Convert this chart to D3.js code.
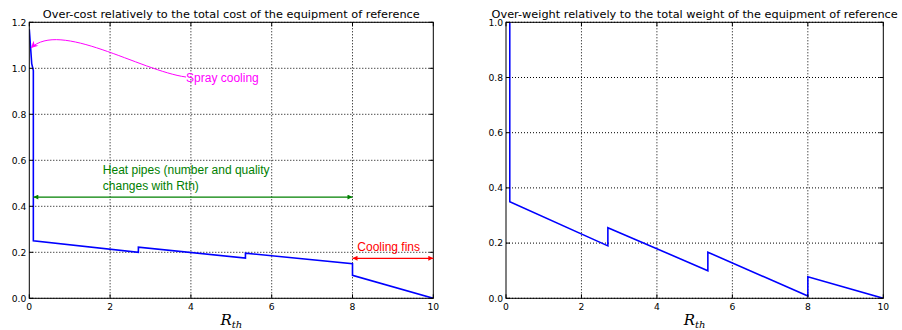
<!DOCTYPE html>
<html>
<head>
<meta charset="utf-8">
<script src="https://cdn.jsdelivr.net/npm/d3@7"></script>
<style>
  html, body { margin: 0; padding: 0; background: #fff; }
  svg { display: block; }
  .tick-label { font-family: "DejaVu Sans", sans-serif; font-size: 9.2px; fill: #000; }
  .title { font-family: "DejaVu Sans", sans-serif; font-size: 11.3px; fill: #000; }
  .note { font-family: "Liberation Sans", Arial, sans-serif; font-size: 12px; }
  .xlabel { font-family: "DejaVu Serif", serif; font-style: italic; fill: #000; }
</style>
</head>
<body>
<svg id="chart" width="902" height="330"></svg>
<script>
// Rth values and relative over-cost (left panel)
const costRth = [0, 0.06, 0.1, 0.1, 2.7, 2.7, 5.35, 5.35, 8, 8, 10];
const costValues = [1.17, 1.02, 0.99, 0.25, 0.2, 0.222, 0.175, 0.196, 0.15, 0.1, 0.0];

// Rth values and relative over-weight (right panel)
const weightRth = [0.1, 0.1, 2.7, 2.7, 5.35, 5.35, 8, 8, 10];
const weightValues = [1.0, 0.35, 0.19, 0.256, 0.1, 0.167, 0.008, 0.078, 0.0];

const xTicks = [0, 2, 4, 6, 8, 10];
const costTicks = [0, 0.2, 0.4, 0.6, 0.8, 1.0, 1.2];
const weightTicks = [0, 0.2, 0.4, 0.6, 0.8, 1.0];

const costTitle = "Over-cost relatively to the total cost of the equipment of reference";
const weightTitle = "Over-weight relatively to the total weight of the equipment of reference";

const svg = d3.select("#chart");

const defs = svg.append("defs");
function marker(id, color) {
  defs.append("marker")
    .attr("id", id)
    .attr("viewBox", "0 -5 10 10")
    .attr("refX", 10).attr("refY", 0)
    .attr("markerWidth", 6).attr("markerHeight", 5)
    .attr("markerUnits", "userSpaceOnUse")
    .attr("orient", "auto-start-reverse")
    .append("path").attr("d", "M0,-5L10,0L0,5Z").attr("fill", color);
}
marker("head-green", "#008000");
marker("head-red", "#ff0000");
defs.append("marker")
  .attr("id", "head-magenta")
  .attr("viewBox", "0 -5 10 10")
  .attr("refX", 10).attr("refY", 0)
  .attr("markerWidth", 9).attr("markerHeight", 7)
  .attr("markerUnits", "userSpaceOnUse")
  .attr("orient", "auto")
  .append("path").attr("d", "M0,-5L10,0L0,5L3,0Z").attr("fill", "#ff00ff");

function panel(opts) {
  const x = d3.scaleLinear().domain([0, 10]).range([opts.left, opts.right]);
  const y = d3.scaleLinear().domain([0, opts.ymax]).range([opts.bottom, opts.top]);
  const g = svg.append("g");

  // dotted grid
  g.append("g").selectAll("line").data(xTicks.slice(1, -1)).join("line")
    .attr("x1", d => x(d)).attr("x2", d => x(d))
    .attr("y1", opts.top).attr("y2", opts.bottom)
    .attr("stroke", "#000").attr("stroke-width", 1).attr("stroke-dasharray", "1,2");
  g.append("g").selectAll("line").data(opts.yTicks).join("line")
    .attr("x1", opts.left).attr("x2", opts.right)
    .attr("y1", d => y(d)).attr("y2", d => y(d))
    .attr("stroke", "#000").attr("stroke-width", 1).attr("stroke-dasharray", "1,2");

  // data line
  const clipId = "clip-" + opts.id;
  defs.append("clipPath").attr("id", clipId).append("rect")
    .attr("x", opts.left).attr("y", opts.top)
    .attr("width", opts.right - opts.left).attr("height", opts.bottom - opts.top);
  const line = d3.line().x((d, i) => x(opts.xs[i])).y(d => y(d));
  g.append("path").datum(opts.ys)
    .attr("clip-path", `url(#${clipId})`)
    .attr("d", line)
    .attr("fill", "none").attr("stroke", "#0000ff").attr("stroke-width", 1.6)
    .attr("stroke-linejoin", "miter");

  // frame
  g.append("rect")
    .attr("x", opts.left).attr("y", opts.top)
    .attr("width", opts.right - opts.left).attr("height", opts.bottom - opts.top)
    .attr("fill", "none").attr("stroke", "#000").attr("stroke-width", 1);

  // inward ticks on all four sides
  const tl = 4;
  g.append("g").selectAll("line").data(xTicks).join("line")
    .attr("x1", d => x(d)).attr("x2", d => x(d))
    .attr("y1", opts.bottom).attr("y2", opts.bottom - tl).attr("stroke", "#000");
  g.append("g").selectAll("line").data(xTicks).join("line")
    .attr("x1", d => x(d)).attr("x2", d => x(d))
    .attr("y1", opts.top).attr("y2", opts.top + tl).attr("stroke", "#000");
  g.append("g").selectAll("line").data(opts.yTicks).join("line")
    .attr("x1", opts.left).attr("x2", opts.left + tl)
    .attr("y1", d => y(d)).attr("y2", d => y(d)).attr("stroke", "#000");
  g.append("g").selectAll("line").data(opts.yTicks).join("line")
    .attr("x1", opts.right).attr("x2", opts.right - tl)
    .attr("y1", d => y(d)).attr("y2", d => y(d)).attr("stroke", "#000");

  // tick labels
  g.append("g").selectAll("text").data(xTicks).join("text")
    .attr("class", "tick-label")
    .attr("x", d => x(d)).attr("y", opts.bottom + 12)
    .attr("text-anchor", "middle")
    .text(d => d3.format("d")(d));
  g.append("g").selectAll("text").data(opts.yTicks).join("text")
    .attr("class", "tick-label")
    .attr("x", opts.left - 3).attr("y", d => y(d) + 3.3)
    .attr("text-anchor", "end")
    .text(d => d3.format(".1f")(d));

  // title
  g.append("text").attr("class", "title")
    .attr("x", (opts.left + opts.right) / 2).attr("y", opts.top - 4)
    .attr("text-anchor", "middle").text(opts.title);

  // x axis label R_th
  const lab = g.append("text").attr("class", "xlabel")
    .attr("x", (opts.left + opts.right) / 2).attr("y", 325)
    .attr("text-anchor", "middle");
  lab.append("tspan").attr("font-size", "15px").text("R");
  lab.append("tspan").attr("font-size", "10px").attr("dy", 3).text("th");

  return { x, y, g };
}

const left = panel({
  id: "cost", left: 29.3, right: 433.3, top: 22.3, bottom: 298.3,
  ymax: 1.2, yTicks: costTicks, xs: costRth, ys: costValues, title: costTitle
});
const right = panel({
  id: "weight", left: 506, right: 883.3, top: 22.3, bottom: 298.3,
  ymax: 1.0, yTicks: weightTicks, xs: weightRth, ys: weightValues, title: weightTitle
});

// annotations on the cost panel
const { x, y, g } = left;

// spray cooling: curved arrow towards the steep start of the curve
const sprayText = [3.88, 0.962];
const sprayTip = [0.04, 1.088];
const c1 = [2.74, 0.99], c2 = [0.76, 1.21];
const sprayPath = d3.path();
sprayPath.moveTo(x(sprayText[0]), y(sprayText[1]));
sprayPath.bezierCurveTo(x(c1[0]), y(c1[1]), x(c2[0]), y(c2[1]), x(sprayTip[0]), y(sprayTip[1]));
g.append("path").attr("d", sprayPath.toString())
  .attr("fill", "none").attr("stroke", "#ff00ff").attr("stroke-width", 1)
  .attr("marker-end", "url(#head-magenta)");
g.append("text").attr("class", "note").attr("fill", "#ff00ff")
  .attr("x", x(sprayText[0])).attr("y", y(sprayText[1]) + 4.5)
  .text("Spray cooling");

// heat pipes range
const heatRange = [0.1, 8], heatLevel = 0.44;
g.append("line")
  .attr("x1", x(heatRange[0])).attr("x2", x(heatRange[1]))
  .attr("y1", y(heatLevel)).attr("y2", y(heatLevel))
  .attr("stroke", "#008000").attr("stroke-width", 1.2)
  .attr("marker-start", "url(#head-green)").attr("marker-end", "url(#head-green)");
const heat = g.append("text").attr("class", "note").attr("fill", "#008000");
heat.append("tspan").attr("x", x(1.82)).attr("y", 173.5).text("Heat pipes (number and quality");
heat.append("tspan").attr("x", x(1.82)).attr("y", 189.5).text("changes with Rth)");

// cooling fins range
const finRange = [8, 10], finLevel = 0.174;
g.append("line")
  .attr("x1", x(finRange[0])).attr("x2", x(finRange[1]))
  .attr("y1", y(finLevel)).attr("y2", y(finLevel))
  .attr("stroke", "#ff0000").attr("stroke-width", 1.2)
  .attr("marker-start", "url(#head-red)").attr("marker-end", "url(#head-red)");
g.append("text").attr("class", "note").attr("fill", "#ff0000")
  .attr("x", x(8.12)).attr("y", y(0.224) + 4.5)
  .text("Cooling fins");
</script>
</body>
</html>
